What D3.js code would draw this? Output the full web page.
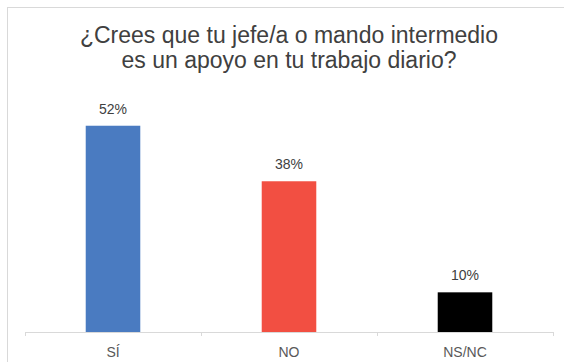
<!DOCTYPE html>
<html>
<head>
<meta charset="utf-8">
<script src="https://cdn.jsdelivr.net/npm/d3@7"></script>
<style>
  html, body { margin: 0; padding: 0; background: #fff; }
  svg { display: block; font-family: "Liberation Sans", Arial, sans-serif; }
</style>
</head>
<body>
<svg id="chart" width="564" height="362"></svg>
<script>
// Survey answers and their shares (percent)
const categories = ["SÍ", "NO", "NS/NC"];
const values = [52, 38, 10];
const barColors = ["#4a7bc1", "#f24f42", "#000000"];
const titleLines = ["¿Crees que tu jefe/a o mando intermedio", "es un apoyo en tu trabajo diario?"];

const svg = d3.select("#chart");

// Outer frame of the chart area
svg.append("rect")
  .attr("x", 7.5).attr("y", 7.5)
  .attr("width", 570).attr("height", 370)
  .attr("fill", "#fff")
  .attr("stroke", "#d9d9d9")
  .attr("stroke-width", 1);

const plot = { left: 25, right: 553, top: 94, bottom: 332 };

const x = d3.scaleBand()
  .domain(categories)
  .range([plot.left, plot.right])
  .paddingInner(0.69)
  .paddingOuter(0.345);

const y = d3.scaleLinear()
  .domain([0, 60])
  .range([plot.bottom, plot.top]);

// Title
const titleX = 289;
svg.append("text")
  .attr("text-anchor", "middle")
  .attr("fill", "#404040")
  .attr("font-size", 23)
  .selectAll("tspan")
  .data(titleLines)
  .join("tspan")
  .attr("x", titleX)
  .attr("y", (d, i) => 43 + i * 24.5)
  .text(d => d);

// Bars
svg.append("g")
  .selectAll("rect")
  .data(values)
  .join("rect")
  .attr("x", (d, i) => x(categories[i]))
  .attr("y", d => y(d))
  .attr("width", x.bandwidth())
  .attr("height", d => y(0) - y(d))
  .attr("fill", (d, i) => barColors[i]);

// Value labels above the bars
svg.append("g")
  .selectAll("text")
  .data(values)
  .join("text")
  .attr("x", (d, i) => x(categories[i]) + x.bandwidth() / 2)
  .attr("y", d => y(d) - 12)
  .attr("text-anchor", "middle")
  .attr("font-size", 14)
  .attr("fill", "#404040")
  .text(d => d + "%");

// Category axis with boundary ticks between categories
const axisG = svg.append("g")
  .attr("transform", `translate(0,${plot.bottom})`);

axisG.append("line")
  .attr("x1", plot.left).attr("x2", plot.right)
  .attr("y1", 0.5).attr("y2", 0.5)
  .attr("stroke", "#d9d9d9")
  .attr("stroke-width", 1);

const boundaries = d3.range(categories.length + 1).map(i => plot.left + i * (plot.right - plot.left) / categories.length);
axisG.selectAll("line.tick")
  .data(boundaries)
  .join("line")
  .attr("class", "tick")
  .attr("x1", d => Math.round(d) + 0.5).attr("x2", d => Math.round(d) + 0.5)
  .attr("y1", 0).attr("y2", 4)
  .attr("stroke", "#d9d9d9");

axisG.selectAll("text")
  .data(categories)
  .join("text")
  .attr("x", d => x(d) + x.bandwidth() / 2)
  .attr("y", 25)
  .attr("text-anchor", "middle")
  .attr("font-size", 14)
  .attr("fill", "#595959")
  .text(d => d);
</script>
</body>
</html>
